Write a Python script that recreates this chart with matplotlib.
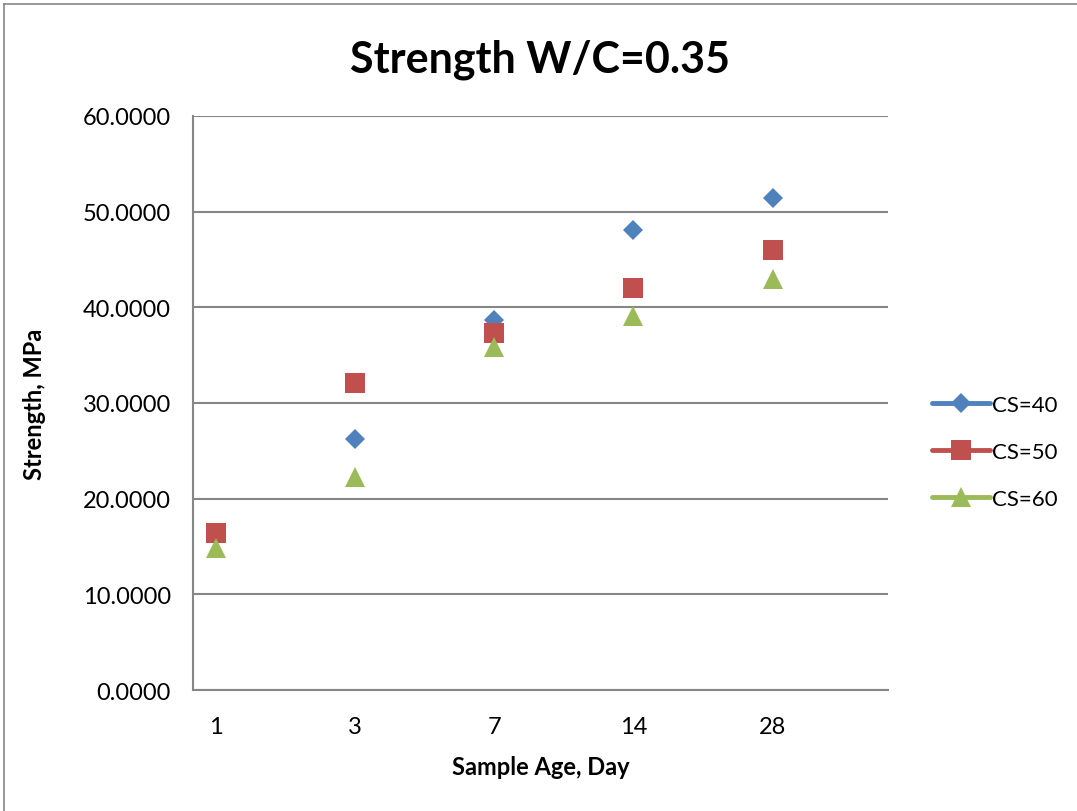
import matplotlib.pyplot as plt
from matplotlib.lines import Line2D

plt.rcParams['font.family'] = ['Lato', 'DejaVu Sans']

# дані з графіка
days = ['1', '3', '7', '14', '28']
cs40 = [16.4, 26.2, 38.7, 48.1, 51.4]
cs50 = [16.4, 32.1, 37.3, 42.0, 46.0]
cs60 = [14.8, 22.3, 35.9, 39.1, 43.0]
series_names = ['CS=40', 'CS=50', 'CS=60']

colors = ['#4F81BD', '#C0504D', '#9BBB59']
markers = ['D', 's', '^']
msizes = [10, 14, 15]

fig = plt.figure(figsize=(10.77, 8.12), dpi=100)
ax = fig.add_axes([193 / 1077, 1 - 691 / 812, 695 / 1077, 574 / 812])

x = list(range(len(days)))
handles = []
for vals, name, c, m, ms in zip([cs40, cs50, cs60], series_names, colors, markers, msizes):
    ax.plot(x, vals, linestyle='none', marker=m, markersize=ms, color=c, markeredgewidth=0)
    handles.append(Line2D([0], [0], color=c, linewidth=3.5, marker=m, markersize=ms, markeredgewidth=0,
                          solid_capstyle='round', label=name))

ax.set_ylim(0, 60)
ax.set_yticks(range(0, 61, 10))
ax.set_yticklabels([f'{v:.4f}' for v in range(0, 61, 10)])
ax.set_xlim(-0.165, 4.83)
ax.set_xticks(x)
ax.set_xticklabels(days)
ax.tick_params(axis='both', length=0, labelsize=17, colors='black')
ax.tick_params(axis='y', pad=16)
ax.tick_params(axis='x', pad=19)

ax.grid(axis='y', color='#868686', linewidth=1.5)
ax.set_axisbelow(True)
for s in ['top', 'right']:
    ax.spines[s].set_visible(False)
for s in ['left', 'bottom']:
    ax.spines[s].set_color('#868686')
    ax.spines[s].set_linewidth(1.5)

ax.set_title('Strength W/C=0.35', fontsize=31, fontweight='bold', pad=32)
ax.set_xlabel('Sample Age, Day', fontsize=17, fontweight='bold', labelpad=13)
ax.set_ylabel('Strength, MPa', fontsize=17, fontweight='bold', labelpad=26)

fig.legend(handles=handles, loc='center left', bbox_to_anchor=(912 / 1077, 1 - 453 / 812),
           frameon=False, fontsize=16, handlelength=2.6, handletextpad=0.1, labelspacing=1.22)

# рамка діаграми
fig.add_artist(Line2D([4 / 1077, 1], [1 - 5 / 812, 1 - 5 / 812], color='#868686', linewidth=1.2))
fig.add_artist(Line2D([4 / 1077, 4 / 1077], [0, 1 - 5 / 812], color='#868686', linewidth=1.2))

fig.savefig('out.png', dpi=100)
